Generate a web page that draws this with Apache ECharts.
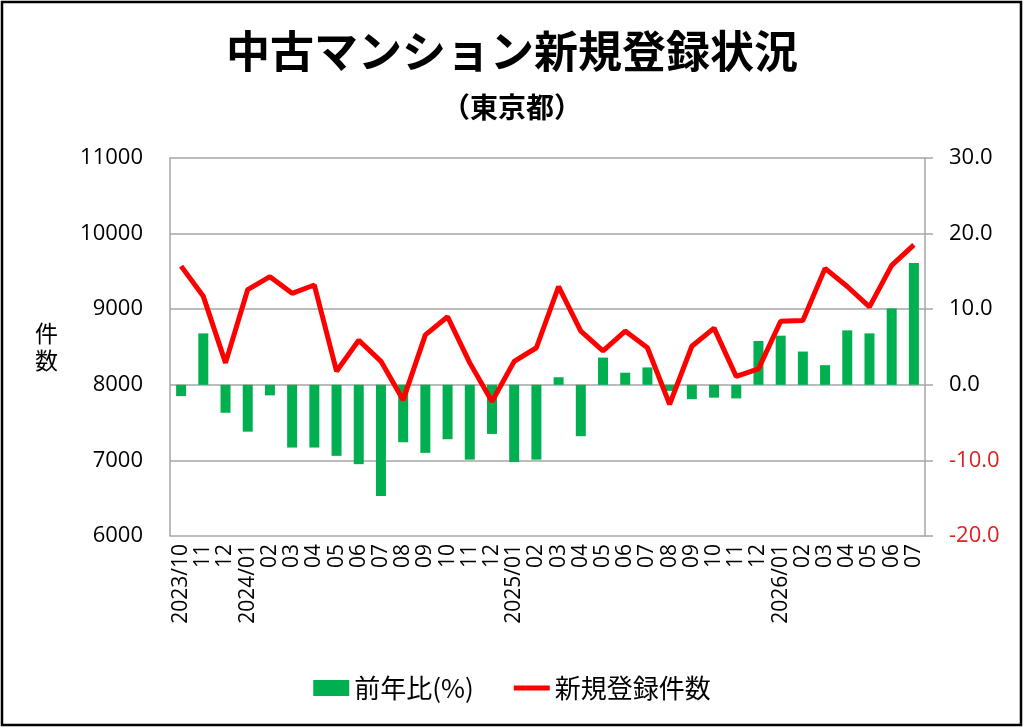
<!DOCTYPE html>
<html>
<head>
<meta charset="utf-8">
<script src="https://cdn.jsdelivr.net/npm/echarts@6/dist/echarts.min.js"></script>
<style>
  html, body { margin: 0; padding: 0; background: #fff; }
  #chart { width: 1024px; height: 728px; }
</style>
</head>
<body>
<div id="chart"></div>
<script>
// 中古マンション新規登録状況（東京都）
const months = [
  '2023/10', '11', '12',
  '2024/01', '02', '03', '04', '05', '06', '07', '08', '09', '10', '11', '12',
  '2025/01', '02', '03', '04', '05', '06', '07', '08', '09', '10', '11', '12',
  '2026/01', '02', '03', '04', '05', '06', '07'
];

// 新規登録件数 (left axis)
const listings = [
  9570, 9170, 8290,
  9260, 9430, 9210, 9320, 8180, 8590, 8310, 7800, 8660, 8900, 8290, 7780,
  8310, 8490, 9300, 8710, 8450, 8710, 8490, 7740, 8510, 8750, 8110, 8210,
  8840, 8850, 9540, 9300, 9030, 9580, 9850
];

// 前年比(%) (right axis)
const yoy = [
  -1.5, 6.8, -3.7,
  -6.2, -1.4, -8.3, -8.3, -9.4, -10.5, -14.7, -7.6, -9.0, -7.2, -9.9, -6.5,
  -10.2, -9.9, 1.0, -6.8, 3.6, 1.6, 2.3, -0.8, -1.9, -1.7, -1.8, 5.8,
  6.5, 4.4, 2.6, 7.2, 6.8, 10.1, 16.1
];

const font = "'Noto Sans CJK JP', 'Noto Sans', sans-serif";
const numFont = "'Open Sans', 'Noto Sans', sans-serif";
const gridColor = '#a6a6a6';

const chart = echarts.init(document.getElementById('chart'));
chart.setOption({
  animation: false,
  textStyle: { fontFamily: font },
  title: [
    {
      text: '中古マンション新規登録状況',
      left: 'center', top: 24,
      textStyle: { fontSize: 44, fontWeight: 'bold', color: '#000', fontFamily: font }
    },
    {
      text: '（東京都）',
      left: 'center', top: 88,
      textStyle: { fontSize: 28, fontWeight: 'bold', color: '#000', fontFamily: font }
    }
  ],
  graphic: [{
    type: 'rect',
    shape: { x: 2, y: 2, width: 1019, height: 723 },
    style: { fill: 'none', stroke: '#000', lineWidth: 2.5 },
    silent: true
  }],
  legend: {
    bottom: 22,
    left: 'center',
    itemGap: 40,
    itemWidth: 36,
    itemHeight: 16,
    textStyle: { fontSize: 26, color: '#000', fontFamily: font },
    data: [
      { name: '前年比(%)', icon: 'rect' },
      { name: '新規登録件数', icon: 'path://M0,0 L36,0 L36,5 L0,5 Z' }
    ]
  },
  grid: { left: 170, right: 99, top: 158, bottom: 192 },
  xAxis: {
    type: 'category',
    data: months,
    axisLine: { show: false },
    axisTick: { show: false },
    axisLabel: {
      rotate: 90, interval: 0, fontSize: 21, color: '#000', margin: 8,
      fontFamily: numFont
    }
  },
  yAxis: [
    {
      type: 'value',
      min: 6000, max: 11000, interval: 1000,
      name: '件\n数',
      nameLocation: 'middle',
      nameRotate: 0,
      nameGap: 112,
      nameTextStyle: { fontSize: 23, color: '#000', lineHeight: 27 },
      axisLine: { show: true, lineStyle: { color: gridColor, width: 1.5 } },
      axisTick: { show: false },
      splitLine: { lineStyle: { color: gridColor, width: 1.5 } },
      axisLabel: {
        fontSize: 22, color: '#000', margin: 27, fontFamily: numFont,
        formatter: v => String(v)
      }
    },
    {
      type: 'value',
      min: -20, max: 30, interval: 10,
      position: 'right',
      axisLine: { show: true, lineStyle: { color: gridColor, width: 1.5 } },
      axisTick: { show: true, length: 8, lineStyle: { color: gridColor, width: 1.5 } },
      splitLine: { show: false },
      axisLabel: {
        fontSize: 22, margin: 24, fontFamily: numFont,
        formatter: v => v.toFixed(1),
        color: v => (Number(v) < 0 ? '#e02020' : '#000')
      }
    }
  ],
  series: [
    {
      name: '前年比(%)',
      type: 'bar',
      yAxisIndex: 1,
      data: yoy,
      barWidth: '45%',
      itemStyle: { color: '#00b050' },
      z: 2
    },
    {
      name: '新規登録件数',
      type: 'line',
      yAxisIndex: 0,
      data: listings,
      symbol: 'none',
      lineStyle: { color: '#ff0000', width: 5 },
      itemStyle: { color: '#ff0000' },
      z: 3
    }
  ]
});
</script>
</body>
</html>
